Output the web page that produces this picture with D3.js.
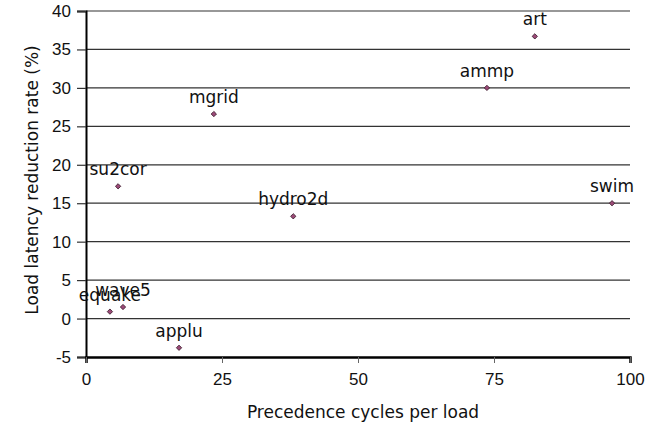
<!DOCTYPE html>
<html lang="en">
<head>
<meta charset="UTF-8">
<title>Load latency reduction vs precedence cycles</title>
<style>
  body { margin: 0; background: #fff; }
  svg { font-family: "DejaVu Sans", sans-serif; }
</style>
</head>
<body>
<div id="chart"></div>
<script src="https://d3js.org/d3.v7.min.js"></script>
<script>
// data
var names = ["equake", "wave5", "applu", "su2cor", "mgrid", "hydro2d", "ammp", "art", "swim"];
var cycles = [4.4, 6.8, 17.1, 5.9, 23.5, 38.1, 73.7, 82.5, 96.7];
var reduction = [0.9, 1.5, -3.8, 17.2, 26.6, 13.3, 30.0, 36.7, 15.0];
var xTicks = [0, 25, 50, 75, 100];
var yTicks = [-5, 0, 5, 10, 15, 20, 25, 30, 35, 40];

var width = 648, height = 423;
var margin = {top: 11, right: 18, bottom: 66, left: 86};
var fs = "17px";

var svg = d3.select("#chart").append("svg")
    .attr("width", width)
    .attr("height", height);

var x = d3.scaleLinear().domain([0, 100]).range([margin.left, width - margin.right]);
var y = d3.scaleLinear().domain([-5, 40]).range([height - margin.bottom, margin.top]);

// gridlines
svg.append("g")
  .selectAll("line")
  .data(yTicks.filter(function(d) { return d > -5; }))
  .enter().append("line")
    .attr("x1", x(0)).attr("x2", x(100))
    .attr("y1", function(d) { return y(d); })
    .attr("y2", function(d) { return y(d); })
    .style("stroke", "#333")
    .style("stroke-width", 1.2);

// y axis
var yAxis = svg.append("g")
    .attr("transform", "translate(" + x(0) + ",0)")
    .call(d3.axisLeft(y).tickValues(yTicks).tickSize(9).tickPadding(6)
      .tickFormat(function(d) { return String(d); }));
yAxis.select(".domain").style("stroke", "#000").style("stroke-width", 2);
yAxis.selectAll(".tick line").style("stroke", "#333").style("stroke-width", 1.2);
yAxis.selectAll("text").style("font-size", fs).style("fill", "#111").attr("font-family", null);

// x axis
var xAxis = svg.append("g")
    .attr("transform", "translate(0," + y(-5) + ")")
    .call(d3.axisBottom(x).tickValues(xTicks).tickSize(6).tickPadding(10));
xAxis.select(".domain").style("stroke", "#000").style("stroke-width", 2.5);
xAxis.selectAll(".tick line").style("stroke", "#666").style("stroke-width", 1);
xAxis.selectAll("text").style("font-size", fs).style("fill", "#111").attr("font-family", null);

// axis titles
svg.append("text")
    .attr("x", 363)
    .attr("y", 418)
    .attr("text-anchor", "middle")
    .style("font-size", fs)
    .style("fill", "#111")
    .text("Precedence cycles per load");

svg.append("text")
    .attr("transform", "translate(38,180) rotate(-90)")
    .attr("text-anchor", "middle")
    .style("font-size", fs)
    .style("fill", "#111")
    .text("Load latency reduction rate (%)");

// points
var pts = names.map(function(n, i) { return {name: n, x: cycles[i], y: reduction[i]}; });

svg.append("g")
  .selectAll("path")
  .data(pts)
  .enter().append("path")
    .attr("d", d3.symbol().type(d3.symbolSquare).size(14))
    .attr("transform", function(d) { return "translate(" + x(d.x) + "," + y(d.y) + ") rotate(45)"; })
    .style("fill", "#9c4a78")
    .style("stroke", "#3a1a2a")
    .style("stroke-width", 0.8);

svg.append("g")
  .selectAll("text")
  .data(pts)
  .enter().append("text")
    .attr("x", function(d) { return x(d.x); })
    .attr("y", function(d) { return y(d.y) - 11; })
    .attr("text-anchor", "middle")
    .style("font-size", fs)
    .style("fill", "#111")
    .text(function(d) { return d.name; });
</script>
</body>
</html>
